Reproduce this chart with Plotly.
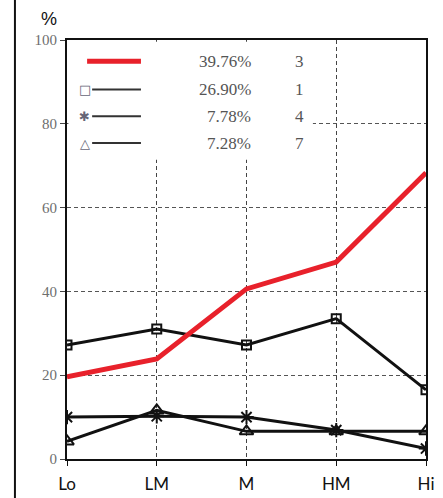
import plotly.graph_objects as go

# Income groups along the x axis
categories = ["Lo", "LM", "M", "HM", "Hi"]

# Share (%) for each series across the groups
series_red = [19.6, 23.9, 40.6, 47.0, 68.3]
series_square = [27.2, 31.0, 27.2, 33.5, 16.5]
series_star = [10.0, 10.2, 10.0, 6.9, 2.5]
series_triangle = [4.2, 11.6, 6.6, 6.6, 6.6]

# Legend table: overall share and rank of each series
legend_share = ["39.76%", "26.90%", "7.78%", "7.28%"]
legend_rank = ["3", "1", "4", "7"]
legend_glyph = ["", "\u25A1", "\u2731", "\u25B3"]

y_ticks = [0, 20, 40, 60, 80, 100]

RED = "#e8212b"
BLACK = "#111111"
GRAY_TXT = "#6e6e6e"

fig = go.Figure()

line_specs = [
    (series_square, "square-open", 9),
    (series_star, "asterisk-open", 12),
    (series_triangle, "triangle-up-open", 12),
]
for vals, sym, size in line_specs:
    fig.add_trace(go.Scatter(
        x=categories, y=vals, mode="lines+markers",
        line=dict(color=BLACK, width=3),
        marker=dict(symbol=sym, size=size, color=BLACK,
                    line=dict(color=BLACK, width=2)),
        showlegend=False, hoverinfo="x+y",
    ))

fig.add_trace(go.Scatter(
    x=categories, y=series_red, mode="lines",
    line=dict(color=RED, width=5),
    showlegend=False, hoverinfo="x+y",
))

shapes = []
annotations = []

# White panel behind the hand-drawn legend (covers the grid)
shapes.append(dict(type="rect", xref="paper", yref="paper",
                   x0=0.004, x1=0.685, y0=0.714, y1=0.996,
                   fillcolor="white", line=dict(width=0), layer="above"))

# Outer frame line on the left of the figure
shapes.append(dict(type="line", xref="paper", yref="paper",
                   x0=-0.145, x1=-0.145, y0=-0.1, y1=1.1,
                   line=dict(color=BLACK, width=2)))

row_y = [0.949, 0.882, 0.818, 0.754]
for i, y in enumerate(row_y):
    if i == 0:
        shapes.append(dict(type="line", xref="paper", yref="paper",
                           x0=0.056, x1=0.206, y0=y, y1=y,
                           line=dict(color=RED, width=5)))
    else:
        shapes.append(dict(type="line", xref="paper", yref="paper",
                           x0=0.07, x1=0.206, y0=y, y1=y,
                           line=dict(color="#333333", width=2)))
        annotations.append(dict(xref="paper", yref="paper", x=0.05, y=y,
                                text=legend_glyph[i], showarrow=False,
                                xanchor="center", yanchor="middle",
                                font=dict(family="DejaVu Sans", size=13,
                                          color="#666677")))
    annotations.append(dict(xref="paper", yref="paper", x=0.518, y=y,
                            text=legend_share[i], showarrow=False,
                            xanchor="right", yanchor="middle",
                            font=dict(family="Liberation Serif", size=17,
                                      color="#555555")))
    annotations.append(dict(xref="paper", yref="paper", x=0.648, y=y,
                            text=legend_rank[i], showarrow=False,
                            xanchor="center", yanchor="middle",
                            font=dict(family="Liberation Serif", size=17,
                                      color="#555555")))

# Unit label above the y axis
annotations.append(dict(xref="paper", yref="paper", x=-0.05, y=1.05,
                        text="%", showarrow=False,
                        xanchor="center", yanchor="middle",
                        font=dict(family="Liberation Sans", size=18,
                                  color=BLACK)))

fig.update_layout(
    width=443, height=498,
    margin=dict(l=67, r=17, t=40, b=39),
    paper_bgcolor="white", plot_bgcolor="white",
    shapes=shapes, annotations=annotations,
    showlegend=False,
)

fig.update_xaxes(
    type="category", range=[0, 4], automargin=False,
    showline=True, linecolor=BLACK, linewidth=2, mirror=True,
    ticks="outside", ticklen=5, tickcolor=BLACK, tickwidth=1,
    ticklabelstandoff=4,
    showgrid=True, gridcolor="#444444", griddash="4px,3px", gridwidth=1,
    tickfont=dict(family="Lato", size=17, color=BLACK),
    zeroline=False,
)
fig.update_yaxes(
    range=[0, 100], tickvals=y_ticks, automargin=False,
    showline=True, linecolor=BLACK, linewidth=2, mirror=True,
    ticks="outside", ticklen=5, tickcolor="#444444", tickwidth=1,
    showgrid=True, gridcolor="#555555", griddash="4px,3px", gridwidth=1,
    tickfont=dict(family="Liberation Serif", size=15, color=GRAY_TXT),
    zeroline=False,
)

fig.write_html("out.html")
